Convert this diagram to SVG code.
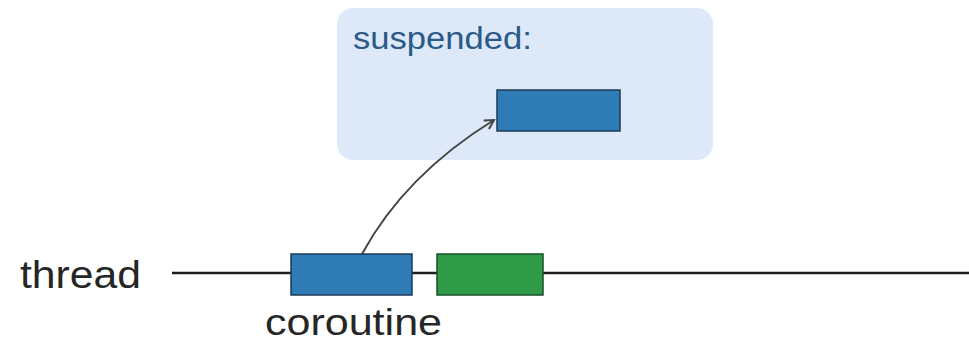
<svg xmlns="http://www.w3.org/2000/svg" width="969" height="348" viewBox="0 0 969 348">
  <style>
    .label { font-family: "Liberation Sans", Arial, Helvetica, sans-serif; fill: #262626; }
    .title { font-family: "Liberation Sans", Arial, Helvetica, sans-serif; fill: #2b5a88; }
    .co { fill: #2e7bb6; stroke: #1d3a56; stroke-width: 1.5; }
    .other { fill: #2f9a48; stroke: #1c4f29; stroke-width: 1.5; }
    .thread { stroke: #1e1e1e; stroke-width: 2.5; fill: none; }
    .link { stroke: #444; stroke-width: 2; fill: none; }
  </style>
  <defs>
    <marker id="chevron" viewBox="0 0 12 12" refX="10" refY="6" markerWidth="12" markerHeight="12" markerUnits="userSpaceOnUse" orient="auto">
      <path d="M1,1 L10,6 L1,11" fill="none" stroke="#444" stroke-width="2"/>
    </marker>
  </defs>

  <rect width="969" height="348" fill="#ffffff"/>

  <!-- suspended area -->
  <g id="suspended-panel">
    <rect x="337" y="8" width="376" height="152" rx="16" fill="#dde9f8"/>
    <text class="title" x="353" y="49" font-size="31" textLength="179" lengthAdjust="spacingAndGlyphs">suspended:</text>
  </g>

  <g id="suspended-coroutine">
    <rect class="co" x="497" y="90" width="123" height="41"/>
  </g>

  <!-- thread timeline -->
  <g id="thread">
    <text class="label" x="20" y="288" font-size="38" textLength="121" lengthAdjust="spacingAndGlyphs">thread</text>
  </g>

  <g id="connectors">
    <line class="thread" x1="172" y1="273" x2="969" y2="273"/>
    <path class="link" d="M362,254 Q405,175 494,120" marker-end="url(#chevron)"/>
  </g>

  <g id="coroutine">
    <rect class="co" x="291" y="254" width="121" height="41"/>
    <text class="label" x="265" y="335" font-size="37" textLength="177" lengthAdjust="spacingAndGlyphs">coroutine</text>
  </g>

  <g id="next-task">
    <rect class="other" x="437" y="254" width="106" height="41"/>
  </g>
</svg>
